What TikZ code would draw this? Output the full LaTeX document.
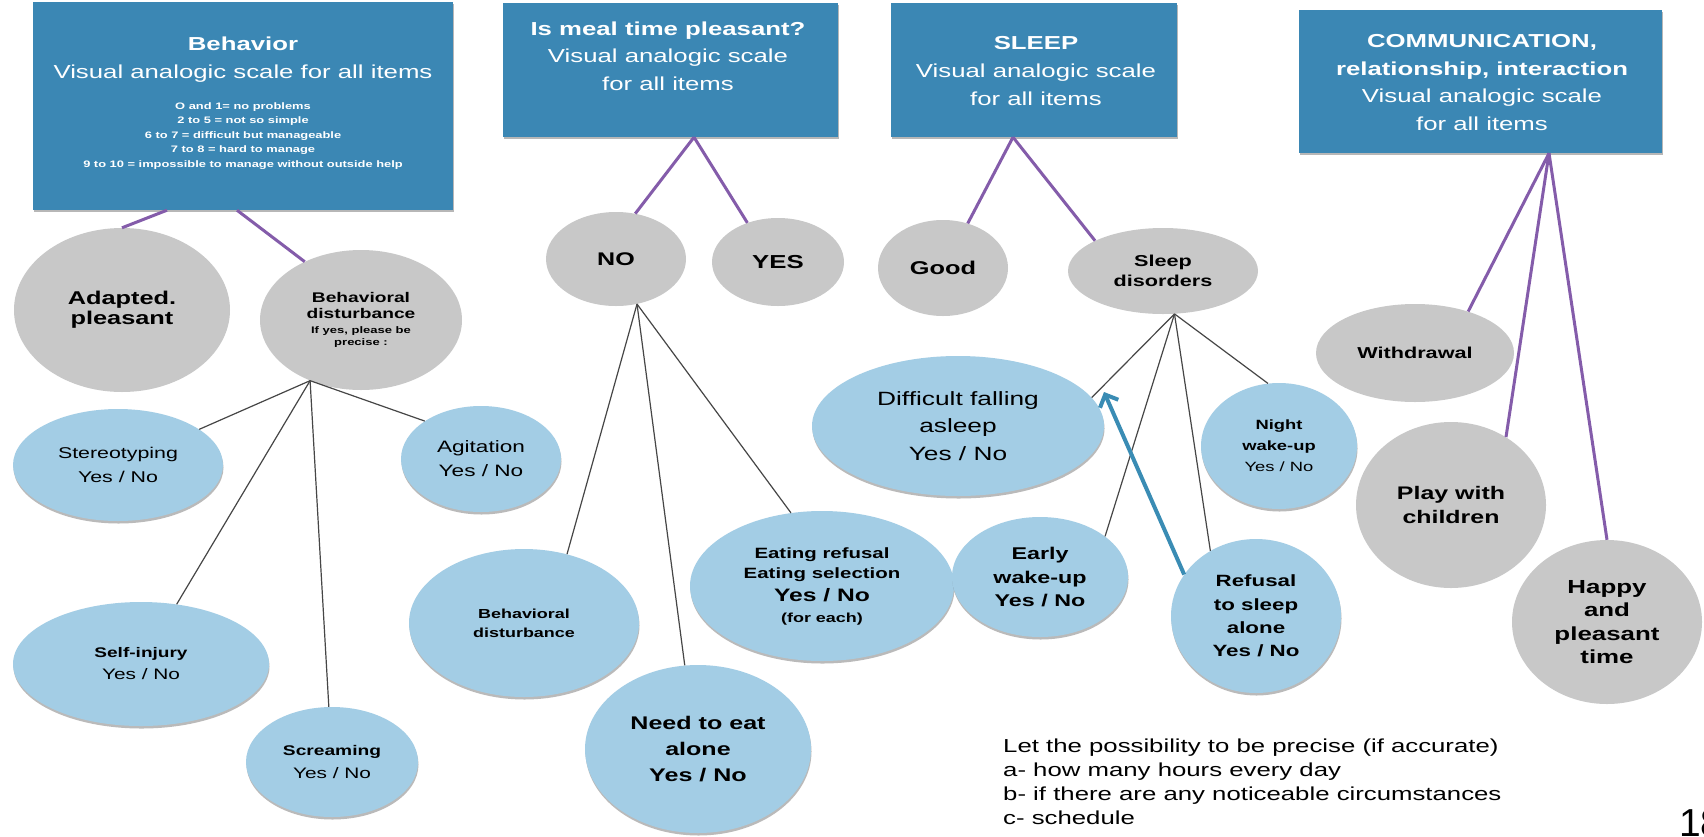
\documentclass[tikz,border=0pt]{standalone}
\usepackage{fontspec}
\setmainfont{Liberation Sans}[FakeStretch=1.37]
\newfontfamily\pagefont{Liberation Sans}
\usetikzlibrary{shapes.geometric,shadows,arrows.meta}
\definecolor{headblue}{RGB}{59,135,180}
\definecolor{ovalgrey}{RGB}{200,200,200}
\definecolor{ovalblue}{RGB}{163,205,229}
\definecolor{stemviolet}{RGB}{132,92,170}
\definecolor{twiggrey}{RGB}{70,70,70}
\definecolor{arrowblue}{RGB}{58,140,180}
\newcommand\fsz[2]{\fontsize{#1}{#2}\selectfont}
\tikzset{
  headbox/.style={fill=headblue,inner sep=0pt,drop shadow={shadow xshift=1pt,shadow yshift=-2pt,opacity=.4,fill=black!70}},
  headtext/.style={text=white,align=center,inner sep=0pt},
  greyoval/.style={ellipse,fill=ovalgrey,inner sep=0pt,align=center},
  blueoval/.style={ellipse,fill=ovalblue,inner sep=0pt,align=center,drop shadow={shadow xshift=.5pt,shadow yshift=-2.5pt,opacity=.45,fill=black!60}},
  wh/.style 2 args={minimum width=#1pt,minimum height=#2pt},
  stem/.style={draw=stemviolet,line width=3pt},
  twig/.style={draw=twiggrey,line width=1.2pt},
  backarrow/.style={draw=arrowblue,line width=4pt,-{Straight Barb[length=10pt,width=20pt]}}
}

\begin{document}
\begin{tikzpicture}[x=1pt,y=-1pt]
  \fill[white] (0,0) rectangle (1704,836);
  \useasboundingbox (0,0) rectangle (1704,836);

  \node[headbox,wh={420}{208}] (bbeh) at (243,106) {};
  \node[headbox,wh={335}{134}] (bmeal) at (670.5,70) {};
  \node[headbox,wh={286}{134}] (bsleep) at (1034,70) {};
  \node[headbox,wh={363}{143}] (bcomm) at (1480.5,81.5) {};

  \node[headtext,font=\fsz{18.8}{28}] (tbeh) at (243,59.5) {\textbf{Behavior}\\Visual analogic scale for all items};
  \node[headtext,font=\fsz{9.4}{14.5}\bfseries] (tscale) at (243,136) {O and 1= no problems\\2 to 5 = not so simple\\6 to 7 = difficult but manageable\\7 to 8 = hard to manage\\9 to 10 = impossible to manage without outside help};
  \node[headtext,font=\fsz{18.8}{27.5}] (tmeal) at (668,56) {\textbf{Is meal time pleasant?}\\Visual analogic scale\\for all items};
  \node[headtext,font=\fsz{18.8}{28}] (tsleep) at (1036,71) {\textbf{SLEEP}\\Visual analogic scale\\for all items};
  \node[headtext,font=\fsz{18.8}{27.7}] (tcomm) at (1482,82.5) {\textbf{COMMUNICATION,}\\\textbf{relationship, interaction}\\Visual analogic scale\\for all items};

  \node[greyoval,wh={216}{164},font=\fsz{18.5}{20}\bfseries] (adapt) at (122,310) {Adapted.\\pleasant};
  \node[greyoval,wh={202}{140},font=\fsz{14}{16}\bfseries] (bdist) at (361,320) {Behavioral\\disturbance\\[-1pt]{\fsz{9.5}{12}If yes, please be}\\[-4pt]{\fsz{9.5}{12}precise :}};
  \node[greyoval,wh={140}{94},font=\fsz{18.3}{20}\bfseries] (no) at (616,259) {NO};
  \node[greyoval,wh={132}{88},font=\fsz{18.8}{20}\bfseries] (yes) at (778,262) {YES};
  \node[greyoval,wh={130}{96},font=\fsz{18.5}{20}\bfseries] (good) at (943,268) {Good};
  \node[greyoval,wh={190}{86},font=\fsz{15.8}{20}\bfseries] (sd) at (1163,271) {Sleep\\disorders};
  \node[greyoval,wh={198}{98},font=\fsz{15.8}{20}\bfseries] (withd) at (1415,353) {Withdrawal};
  \node[greyoval,wh={190}{166},font=\fsz{18.2}{24}\bfseries] (play) at (1451,505) {Play with\\children};
  \node[greyoval,wh={190}{164},font=\fsz{18.9}{23.3}\bfseries] (happy) at (1607,622) {Happy\\and\\pleasant\\time};

  \node[blueoval,wh={210}{112},font=\fsz{15.6}{24}] (stereo) at (118,465) {Stereotyping\\Yes / No};
  \node[blueoval,wh={160}{106},font=\fsz{16.5}{24}] (agit) at (481,459) {Agitation\\Yes / No};
  \node[blueoval,wh={256}{124},font=\fsz{15.2}{22}] (selfinj) at (141,664) {{\fsz{13.9}{22}\bfseries Self-injury}\\Yes / No};
  \node[blueoval,wh={172}{110},font=\fsz{15.2}{23}] (scream) at (332,762) {{\fsz{14}{23}\bfseries Screaming}\\Yes / No};
  \node[blueoval,wh={230}{148},font=\fsz{13.1}{19}\bfseries] (bdmeal) at (524,623) {Behavioral\\disturbance};
  \node[blueoval,wh={226}{168},font=\fsz{18.3}{26}\bfseries] (needeat) at (698,749) {Need to eat\\alone\\Yes / No};
  \node[blueoval,wh={264}{150},font=\fsz{14.9}{20}\bfseries] (eatref) at (822,586) {Eating refusal\\Eating selection\\[3pt]{\fsz{18}{20}Yes / No}\\[1pt]{\fsz{13.1}{20}(for each)}};
  \node[blueoval,wh={292}{140},font=\fsz{19.2}{27.5}] (diff) at (958,426) {Difficult falling\\asleep\\Yes / No};
  \node[blueoval,wh={176}{120},font=\fsz{17}{23.5}\bfseries] (early) at (1040,577) {Early\\wake-up\\Yes / No};
  \node[blueoval,wh={170}{154},font=\fsz{16.3}{23.3}\bfseries] (refus) at (1256,616) {Refusal\\to sleep\\alone\\Yes / No};
  \node[blueoval,wh={156}{126},font=\fsz{13.4}{21}] (night) at (1279,446) {\textbf{Night}\\\textbf{wake-up}\\Yes / No};

  \draw[stem] ([xshift=-76pt]bbeh.south) -- (adapt.north);
  \draw[stem] ([xshift=-6pt]bbeh.south) -- (bdist.134);
  \draw[stem] ([xshift=23.5pt]bmeal.south) -- (no.67);
  \draw[stem] ([xshift=23.5pt]bmeal.south) -- (yes.128);
  \draw[stem] ([xshift=-21pt]bsleep.south) -- (good.61);
  \draw[stem] ([xshift=-21pt]bsleep.south) -- (sd.156);
  \draw[stem] ([xshift=68.5pt]bcomm.south) -- (withd.38);
  \draw[stem] ([xshift=68.5pt]bcomm.south) -- (play.51);
  \draw[stem] ([xshift=68.5pt]bcomm.south) -- (happy.north);

  \draw[twig] (bdist.230) -- (stereo);
  \draw[twig] (bdist.230) -- (selfinj);
  \draw[twig] (bdist.230) -- (scream);
  \draw[twig] (bdist.230) -- (agit.146);
  \draw[twig] (no.295) -- (bdmeal.58);
  \draw[twig] (no.295) -- (needeat.99);
  \draw[twig] (no.295) -- (eatref.113);
  \draw[twig] (sd.285) -- (diff.12);
  \draw[twig] (sd.285) -- (early.32);
  \draw[twig] (sd.285) -- (refus.125);
  \draw[twig] (sd.285) -- (night.100);

  \coordinate (arrtip) at (1104,392);
  \draw[backarrow] (refus.150) -- (arrtip);

  \node[anchor=west,align=left,inner sep=0pt,font=\fsz{18.8}{24}] (note) at (1003,782) {Let the possibility to be precise (if accurate)\\a- how many hours every day\\b- if there are any noticeable circumstances\\c- schedule};
  \node[anchor=base west,inner sep=0pt,font=\pagefont\fsz{39}{40}] (pagenum) at (1679,836) {18};
\end{tikzpicture}
\end{document}
